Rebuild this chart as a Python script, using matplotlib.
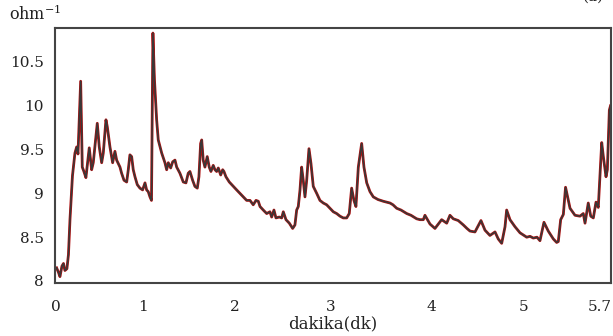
import numpy as np
import matplotlib
matplotlib.use("Agg")
import matplotlib.pyplot as plt

# time (dakika) and conductance (ohm^-1)
t_min = [0.007, 0.026, 0.042, 0.063, 0.079, 0.094, 0.115, 0.131, 0.147, 0.173,
         0.199, 0.217, 0.231, 0.259, 0.276, 0.293, 0.314, 0.349, 0.374, 0.391,
         0.433, 0.454, 0.479, 0.496, 0.524, 0.538, 0.566, 0.594, 0.618, 0.636,
         0.671, 0.688, 0.713, 0.741, 0.758, 0.775, 0.793, 0.810, 0.828, 0.852,
         0.880, 0.908, 0.933, 0.950, 0.967, 0.985, 1.001, 1.016, 1.032, 1.055,
         1.072, 1.108, 1.142, 1.160, 1.177, 1.202, 1.223, 1.247, 1.265, 1.299,
         1.334, 1.362, 1.386, 1.404, 1.432, 1.456, 1.481, 1.498, 1.516, 1.527,
         1.543, 1.561, 1.585, 1.606, 1.624, 1.648, 1.666, 1.684, 1.701, 1.726,
         1.747, 1.760, 1.781, 1.816, 1.858, 1.893, 1.928, 1.963, 1.998, 2.033,
         2.067, 2.096, 2.120, 2.138, 2.172, 2.208, 2.242, 2.260, 2.284, 2.305,
         2.340, 2.365, 2.382, 2.410, 2.445, 2.480, 2.504, 2.522, 2.539, 2.557,
         2.574, 2.591, 2.609, 2.627, 2.651, 2.672, 2.696, 2.732, 2.766, 2.801,
         2.836, 2.871, 2.906, 2.941, 2.976, 3.010, 3.046, 3.073, 3.098, 3.122,
         3.143, 3.168, 3.203, 3.227, 3.256, 3.290, 3.325, 3.374, 3.430, 3.500,
         3.531, 3.570, 3.615, 3.675, 3.720, 3.779, 3.814, 3.849, 3.866, 3.919,
         3.971, 4.041, 4.094, 4.128, 4.163, 4.215, 4.268, 4.306, 4.338, 4.390,
         4.453, 4.495, 4.547, 4.600, 4.634, 4.670, 4.705, 4.722, 4.757, 4.809,
         4.862, 4.932, 4.967, 5.001, 5.040, 5.071, 5.113, 5.158, 5.211, 5.246,
         5.263, 5.288, 5.316, 5.339, 5.386, 5.438, 5.490, 5.525, 5.543, 5.577,
         5.603, 5.630, 5.658, 5.682, 5.718, 5.735, 5.763, 5.777, 5.798, 5.810]

cond = [8.15, 8.10, 8.05, 8.17, 8.20, 8.12, 8.14, 8.30, 8.70, 9.20,
        9.46, 9.53, 9.45, 10.28, 9.30, 9.25, 9.18, 9.52, 9.27, 9.35,
        9.80, 9.53, 9.35, 9.46, 9.84, 9.76, 9.53, 9.35, 9.48, 9.38,
        9.30, 9.23, 9.15, 9.13, 9.27, 9.44, 9.42, 9.27, 9.19, 9.10,
        9.06, 9.04, 9.12, 9.04, 9.02, 8.96, 8.92, 10.83, 10.30, 9.84,
        9.61, 9.46, 9.35, 9.27, 9.35, 9.29, 9.36, 9.38, 9.30, 9.23,
        9.13, 9.12, 9.23, 9.25, 9.15, 9.08, 9.06, 9.19, 9.57, 9.61,
        9.38, 9.30, 9.42, 9.30, 9.25, 9.32, 9.27, 9.25, 9.29, 9.21,
        9.27, 9.25, 9.19, 9.13, 9.08, 9.04, 9.00, 8.96, 8.92, 8.92,
        8.87, 8.92, 8.91, 8.85, 8.81, 8.77, 8.79, 8.73, 8.81, 8.72,
        8.73, 8.72, 8.79, 8.70, 8.66, 8.60, 8.64, 8.81, 8.85, 9.04,
        9.30, 9.15, 8.96, 9.15, 9.51, 9.34, 9.08, 9.00, 8.92, 8.89,
        8.87, 8.83, 8.79, 8.77, 8.74, 8.72, 8.72, 8.77, 9.06, 8.92,
        8.85, 9.30, 9.57, 9.30, 9.12, 9.02, 8.96, 8.93, 8.91, 8.89,
        8.87, 8.83, 8.81, 8.77, 8.75, 8.71, 8.70, 8.70, 8.75, 8.65,
        8.60, 8.70, 8.66, 8.75, 8.71, 8.69, 8.64, 8.60, 8.57, 8.56,
        8.69, 8.58, 8.52, 8.56, 8.48, 8.43, 8.62, 8.81, 8.70, 8.62,
        8.55, 8.50, 8.51, 8.49, 8.50, 8.46, 8.67, 8.57, 8.48, 8.44,
        8.45, 8.70, 8.76, 9.07, 8.83, 8.75, 8.74, 8.77, 8.66, 8.89,
        8.74, 8.72, 8.90, 8.84, 9.58, 9.42, 9.19, 9.27, 9.95, 10.00]

xtick_pos = [0, 0.912, 1.870, 2.882, 3.930, 4.904, 5.7]
xtick_lab = ["0", "1", "2", "3", "4", "5", "5.7"]
ytick_pos = [8, 8.5, 9, 9.5, 10, 10.5]
ytick_lab = ["8", "8.5", "9", "9.5", "10", "10.5"]

plt.rcParams['font.family'] = ['DejaVu Serif']
plt.rcParams['mathtext.fontset'] = 'dejavuserif'

fig = plt.figure(figsize=(6.13, 3.36), dpi=100)
ax = fig.add_axes([0.0897, 0.1577, 0.907, 0.759])

ax.plot(t_min, cond, color='#b01010', lw=2.0, solid_joinstyle='round')
ax.plot(t_min, cond, color='#383838', lw=1.1, solid_joinstyle='round')

ax.set_xlim(-0.010, 5.815)
ax.set_ylim(7.977, 10.888)
ax.set_xticks(xtick_pos)
ax.set_xticklabels(xtick_lab)
ax.set_yticks(ytick_pos)
ax.set_yticklabels(ytick_lab)
ax.tick_params(length=0, labelsize=11, colors='#222222')
ax.tick_params(axis='x', pad=12)
ax.tick_params(axis='y', pad=8)
for s in ax.spines.values():
    s.set_color('#444444')
    s.set_linewidth(1.5)

ax.set_xlabel('dakika(dk)', fontsize=12, color='#222222', labelpad=1)
fig.text(0.014, 1 - 20 / 336, 'ohm$^{\\mathregular{-1}}$', fontsize=11.5,
         color='#222222', va='baseline', ha='left')
fig.text(0.950, 1 - 1 / 336, '(a)', fontsize=11, color='#222222',
         va='baseline', ha='left')

fig.savefig('out.png', dpi=100)
